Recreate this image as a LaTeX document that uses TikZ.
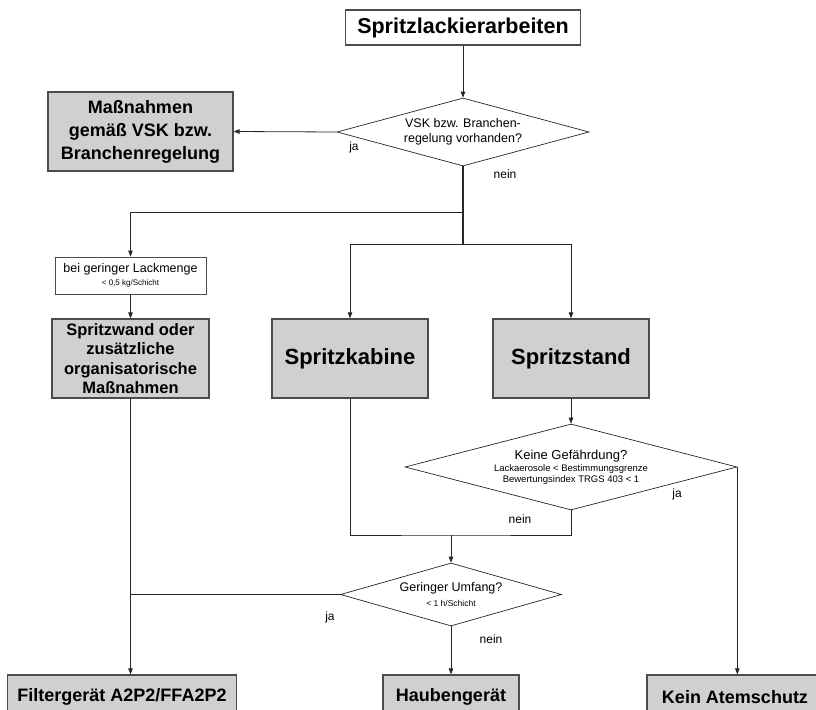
\documentclass[tikz,border=0pt]{standalone}
\usepackage{fontspec}
\setmainfont{Liberation Sans}
\usetikzlibrary{shapes.geometric,arrows.meta}
\definecolor{boxgray}{RGB}{208,208,208}
\newcommand{\fs}[2]{\fontsize{#1}{#2}\selectfont}

\begin{document}
\begin{tikzpicture}[x=1pt,y=-1pt]
\clip (0,0) rectangle (816,709);

\coordinate (P_start) at (463,27.5);
\coordinate (P_mass) at (140.5,131.5);
\coordinate (P_menge) at (130.5,275.5);
\coordinate (P_wand) at (130.5,358.5);
\coordinate (P_kabine) at (350,358.5);
\coordinate (P_stand) at (571,358.5);
\coordinate (P_filter) at (122,697);
\coordinate (P_haube) at (451,697);
\coordinate (P_kein) at (735,697);
\coordinate (Q_vsk) at (463,132);
\coordinate (Q_gef) at (571,467);
\coordinate (Q_umf) at (451,594.5);
\coordinate (S_1) at (463,212);
\coordinate (S_2) at (463,244);
\coordinate (S_3) at (451,535);


\tikzset{BoxStyle/.style = {
 draw = black!70,
 line width = 1.2pt,
 inner sep = 0pt,
 align = center} }
\tikzset{DecStyle/.style = {
 shape = diamond,
 draw = black!85,
 line width = 0.7pt,
 inner sep = 0pt,
 align = center,
 font = \fs{12.5}{15}} }

\node[BoxStyle, fill=white, minimum width=235, minimum height=35, font=\bfseries\fs{21.5}{24}] (start) at (P_start) {Spritzlackierarbeiten};
\node[BoxStyle, fill=boxgray, minimum width=185, minimum height=79, font=\bfseries\fs{18}{23}] (mass) at (P_mass) {Maßnahmen\\gemäß VSK bzw.\\Branchenregelung};
\node[BoxStyle, fill=white, line width=0.8pt, minimum width=151, minimum height=37, font=\fs{12.5}{13}] (menge) at (P_menge) {bei geringer Lackmenge\\{\fs{8}{10}< 0,5 kg/Schicht}};
\node[BoxStyle, fill=boxgray, minimum width=157, minimum height=79, font=\bfseries\fs{16.5}{19.5}] (wand) at (P_wand) {Spritzwand oder\\zusätzliche\\organisatorische\\Maßnahmen};
\node[BoxStyle, fill=boxgray, minimum width=156, minimum height=79, font=\bfseries\fs{22}{24}] (kabine) at (P_kabine) {Spritzkabine};
\node[BoxStyle, fill=boxgray, minimum width=156, minimum height=79, font=\bfseries\fs{22}{24}] (stand) at (P_stand) {Spritzstand};
\node[BoxStyle, fill=boxgray, minimum width=229, minimum height=44, font=\bfseries\fs{18}{20}] (filter) at (P_filter) {Filtergerät A2P2/FFA2P2};
\node[BoxStyle, fill=boxgray, minimum width=136, minimum height=44, font=\bfseries\fs{18}{20}] (haube) at (P_haube) {Haubengerät};
\node[BoxStyle, fill=boxgray, minimum width=176, minimum height=44, font=\bfseries\fs{18}{20}] (kein) at (P_kein) {Kein Atemschutz};

\node[DecStyle, fill=white, shape aspect=3.7, minimum width=252, minimum height=68] (vsk) at (Q_vsk) {VSK bzw. Branchen-\\regelung vorhanden?};
\node[DecStyle, fill=white, shape aspect=3.86, minimum width=332, minimum height=86, font=\fs{9.5}{11}] (gef) at (Q_gef) {{\fs{13}{14}Keine Gefährdung?}\\[1pt]Lackaerosole < Bestimmungsgrenze\\Bewertungsindex TRGS 403 < 1};
\node[DecStyle, fill=white, shape aspect=3.5, minimum width=221, minimum height=63] (umf) at (Q_umf) {Geringer Umfang?\\{\fs{8.5}{10}< 1 h/Schicht}};


\tikzset{FlowStyle/.style = {draw=black!85, line width=0.8pt} }
\tikzset{ArrowStyle/.style = {FlowStyle, -{Triangle[length=6pt,width=4.5pt]}} }

\draw[ArrowStyle] (start) -- (vsk);
\draw[ArrowStyle] (vsk.west) -- (mass.east);
\draw[FlowStyle, line width=1.4pt] (vsk.south) -- (S_2);
\draw[ArrowStyle] (S_1) -| (menge.north);
\draw[ArrowStyle] (S_2) -| (kabine.north);
\draw[ArrowStyle] (S_2) -| (stand.north);
\draw[ArrowStyle] (menge) -- (wand);
\draw[ArrowStyle] (stand) -- (gef);
\draw[FlowStyle] (kabine.south) |- (S_3) -| (gef.south);
\draw[ArrowStyle] (S_3) -- (umf.north);
\draw[ArrowStyle] (gef.east) -- (gef.east |- kein.north);
\draw[FlowStyle] (umf.west) -- (umf.west -| wand.south);
\draw[ArrowStyle] (wand.south) -- (wand.south |- filter.north);
\draw[ArrowStyle] (umf.south) -- (haube.north);


\tikzset{LabelStyle/.style = {font=\fs{12}{14}, inner sep=0pt} }

\node[LabelStyle] (ja_vsk) at (354,147) {ja};
\node[LabelStyle] (nein_vsk) at (505,174) {nein};
\node[LabelStyle] (ja_gef) at (677,494) {ja};
\node[LabelStyle] (nein_gef) at (520,519) {nein};
\node[LabelStyle] (ja_umf) at (330,617) {ja};
\node[LabelStyle] (nein_umf) at (491,639) {nein};

\end{tikzpicture}
\end{document}
